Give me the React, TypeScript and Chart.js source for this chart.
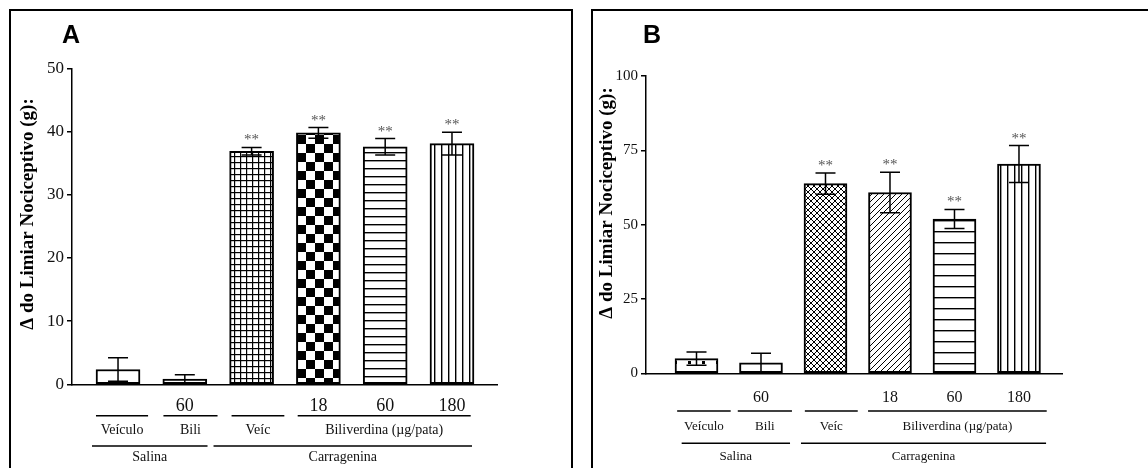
import React, { useEffect, useRef } from 'react';
import { Chart, registerables } from 'chart.js';
Chart.register(...registerables);

// ---------- data ----------
const categories = ['Salina/Veículo', 'Salina/Bili 60', 'Carragenina/Veíc', 'Carragenina/Bili 18', 'Carragenina/Bili 60', 'Carragenina/Bili 180'];
const tickLabels = ['', '60', '', '18', '60', '180'];
const stars = ['', '', '**', '**', '**', '**'];

const meansA = [2.35, 0.84, 36.9, 39.8, 37.6, 38.1];
const semA = [1.85, 0.68, 0.6, 0.85, 1.3, 1.8];
const meansB = [4.95, 3.5, 63.8, 60.8, 51.9, 70.4];
const semB = [2.25, 3.25, 3.55, 6.8, 3.2, 6.2];

const row1Labels = ['Veículo', 'Bili', 'Veíc', 'Biliverdina (µg/pata)'];
const row2Labels = ['Salina', 'Carragenina'];
const yTitle = 'Δ do Limiar Nociceptivo (g):';

// ---------- layout / style ----------
const patternsA = ['white', 'white', 'grid', 'checker', 'hlines8', 'vlines7'];
const patternsB = ['dots', 'white', 'cross', 'diag', 'hlines11', 'vlines7'];

const row1SpansA = [[-0.33, 0.45], [0.68, 1.49], [1.7, 2.49], [2.69, 5.28]];
const row2SpansA = [[-0.39, 1.34], [1.43, 5.3]];
const row1SpansB = [[-0.3, 0.53], [0.64, 1.48], [1.68, 2.5], [2.66, 5.43]];
const row2SpansB = [[-0.23, 1.45], [1.62, 5.42]];

const SERIF = '"Liberation Serif", "Times New Roman", serif';

function makePattern(ctx: CanvasRenderingContext2D, kind: string): CanvasPattern | string {
  if (kind === 'white') return '#ffffff';
  const c = document.createElement('canvas');
  const g = c.getContext('2d')!;
  const set = (w: number, h: number) => { c.width = w; c.height = h; g.fillStyle = '#fff'; g.fillRect(0, 0, w, h); g.fillStyle = '#000'; g.strokeStyle = '#000'; };
  if (kind === 'grid') { set(6, 6); g.fillRect(0, 0, 1.2, 6); g.fillRect(0, 0, 6, 1.2); }
  else if (kind === 'checker') { set(18, 18); g.fillRect(0, 0, 9, 9); g.fillRect(9, 9, 9, 9); }
  else if (kind === 'hlines8') { set(4, 8); g.fillRect(0, 0, 4, 1.4); }
  else if (kind === 'hlines11') { set(4, 11); g.fillRect(0, 0, 4, 1.4); }
  else if (kind === 'vlines7') { set(7, 4); g.fillRect(0, 0, 1.4, 4); }
  else if (kind === 'dots') { set(14, 14); g.fillRect(10, 11, 3, 3); }
  else if (kind === 'diag' || kind === 'cross') {
    const s = 6; set(s, s); g.lineWidth = 1;
    g.beginPath();
    g.moveTo(-1, s + 1); g.lineTo(s + 1, -1);
    g.moveTo(-s / 2 - 1, s / 2 + 1); g.lineTo(s / 2 + 1, -s / 2 - 1);
    g.moveTo(s / 2 - 1, 1.5 * s + 1); g.lineTo(1.5 * s + 1, s / 2 - 1);
    if (kind === 'cross') {
      g.moveTo(-1, -1); g.lineTo(s + 1, s + 1);
      g.moveTo(s / 2 - 1, -s / 2 - 1); g.lineTo(1.5 * s + 1, s / 2 + 1);
      g.moveTo(-s / 2 - 1, s / 2 - 1); g.lineTo(s / 2 + 1, 1.5 * s + 1);
    }
    g.stroke();
  }
  return ctx.createPattern(c, 'repeat') || '#fff';
}

interface PanelCfg {
  letter: string;
  means: number[];
  sem: number[];
  patterns: string[];
  yMax: number;
  yStep: number;
  xMin: number;
  xMax: number;
  barWidth: number;
  canvasW: number;
  area: { left: number; right: number; top: number; bottom: number };
  tickFont: number;
  tickPad: number;
  labelFont: number;
  titleFont: number;
  titleX: number;
  titleY: number;
  letterX: number;
  rows: number[]; // y offsets below axis: line1, text1, line2, text2
  row1Spans: number[][];
  row2Spans: number[][];
}

const cfgA: PanelCfg = {
  letter: 'A', means: meansA, sem: semA, patterns: patternsA,
  yMax: 50, yStep: 10, xMin: -0.689, xMax: 5.674, barWidth: 44,
  canvasW: 580, area: { left: 72, right: 497, top: 68.5, bottom: 384.3 },
  tickFont: 18, tickPad: 11, labelFont: 14, titleFont: 19, titleX: 28, titleY: 214, letterX: 62,
  rows: [31.4, 45.7, 61.7, 73.4], row1Spans: row1SpansA, row2Spans: row2SpansA,
};
const cfgB: PanelCfg = {
  letter: 'B', means: meansB, sem: semB, patterns: patternsB,
  yMax: 100, yStep: 25, xMin: -0.783, xMax: 5.667, barWidth: 43,
  canvasW: 568, area: { left: 66, right: 482, top: 76, bottom: 373.3 },
  tickFont: 16, tickPad: 15, labelFont: 13, titleFont: 19, titleX: 27, titleY: 203, letterX: 63,
  rows: [37.7, 53.7, 70, 83.4], row1Spans: row1SpansB, row2Spans: row2SpansB,
};

function Panel({ cfg, left }: { cfg: PanelCfg; left: number }) {
  const ref = useRef<HTMLCanvasElement>(null);
  useEffect(() => {
    const canvas = ref.current!;
    const ctx0 = canvas.getContext('2d')!;
    const H = 468;
    const bg = cfg.patterns.map((p) => makePattern(ctx0, p));
    const overlay = {
      id: 'overlay' + cfg.letter,
      afterDatasetsDraw(chart: any) {
        const ctx = chart.ctx as CanvasRenderingContext2D;
        const ys = chart.scales.y;
        const meta = chart.getDatasetMeta(0);
        ctx.save();
        ctx.strokeStyle = '#000';
        ctx.lineWidth = 1.5;
        meta.data.forEach((bar: any, i: number) => {
          const x = bar.x;
          const yt = ys.getPixelForValue(cfg.means[i] + cfg.sem[i]);
          const yb = ys.getPixelForValue(Math.max(0, cfg.means[i] - cfg.sem[i]));
          ctx.beginPath();
          ctx.moveTo(x, yt); ctx.lineTo(x, yb);
          ctx.moveTo(x - 10, yt); ctx.lineTo(x + 10, yt);
          ctx.moveTo(x - 10, yb); ctx.lineTo(x + 10, yb);
          ctx.stroke();
          if (stars[i]) {
            ctx.fillStyle = '#555';
            ctx.font = `15px ${SERIF}`;
            ctx.textAlign = 'center';
            ctx.textBaseline = 'alphabetic';
            ctx.fillText(stars[i], x, yt - 3);
          }
        });
        ctx.restore();
      },
      afterDraw(chart: any) {
        const ctx = chart.ctx as CanvasRenderingContext2D;
        const xs = chart.scales.x;
        const base = chart.chartArea.bottom;
        ctx.save();
        ctx.strokeStyle = '#000';
        ctx.fillStyle = '#111';
        ctx.lineWidth = 1.5;
        const drawRow = (spans: number[][], labels: string[], lineOff: number, textOff: number) => {
          spans.forEach((s, i) => {
            const x1 = xs.getPixelForValue(s[0]);
            const x2 = xs.getPixelForValue(s[1]);
            ctx.beginPath();
            ctx.moveTo(x1, base + lineOff); ctx.lineTo(x2, base + lineOff);
            ctx.stroke();
            ctx.font = `${cfg.labelFont}px ${SERIF}`;
            ctx.textAlign = 'center';
            ctx.textBaseline = 'middle';
            ctx.fillText(labels[i], (x1 + x2) / 2, base + textOff);
          });
        };
        drawRow(cfg.row1Spans, row1Labels, cfg.rows[0], cfg.rows[1]);
        drawRow(cfg.row2Spans, row2Labels, cfg.rows[2], cfg.rows[3]);
        ctx.save();
        ctx.translate(cfg.titleX, cfg.titleY);
        ctx.rotate(-Math.PI / 2);
        ctx.font = `bold ${cfg.titleFont}px ${SERIF}`;
        ctx.textAlign = 'center';
        ctx.textBaseline = 'middle';
        ctx.fillStyle = '#000';
        ctx.fillText(yTitle, 0, 0);
        ctx.restore();
        ctx.font = `bold 25px "Liberation Sans", Arial, sans-serif`;
        ctx.fillStyle = '#000';
        ctx.textAlign = 'left';
        ctx.textBaseline = 'alphabetic';
        ctx.fillText(cfg.letter, cfg.letterX, 43);
        ctx.restore();
      },
    };

    const chart = new Chart(canvas, {
      type: 'bar',
      data: {
        labels: categories,
        datasets: [{
          data: cfg.means.map((m, i) => ({ x: i, y: m })) as any,
          backgroundColor: bg as any,
          borderColor: '#000',
          borderWidth: 2,
          borderSkipped: false,
          barThickness: cfg.barWidth,
        }],
      },
      options: {
        responsive: false,
        animation: false,
        devicePixelRatio: 1,
        events: [],
        layout: { padding: { top: cfg.area.top, left: 0, right: cfg.canvasW - cfg.area.right, bottom: 0 } },
        plugins: { legend: { display: false }, tooltip: { enabled: false } },
        scales: {
          x: {
            type: 'linear',
            min: cfg.xMin,
            max: cfg.xMax,
            offset: false,
            afterBuildTicks: (s: any) => { s.ticks = [0, 1, 2, 3, 4, 5].map((v) => ({ value: v })); },
            afterFit: (s: any) => { s.height = H - cfg.area.bottom; },
            grid: { display: false, drawTicks: false },
            border: { display: true, color: '#000', width: 1.5 },
            ticks: {
              autoSkip: false,
              maxRotation: 0,
              padding: cfg.tickPad,
              color: '#111',
              font: { family: SERIF, size: cfg.tickFont },
              callback: (v: any) => tickLabels[Math.round(Number(v))] ?? '',
            },
          },
          y: {
            min: 0,
            max: cfg.yMax,
            afterFit: (s: any) => { s.width = cfg.area.left; },
            grid: { display: true, drawOnChartArea: false, drawTicks: true, tickLength: 5, color: '#000', lineWidth: 1.5 },
            border: { display: true, color: '#000', width: 1.5 },
            ticks: {
              stepSize: cfg.yStep,
              padding: 3,
              color: '#111',
              font: { family: SERIF, size: cfg.tickFont - 1 },
            },
          },
        },
      },
      plugins: [overlay],
    });
    return () => chart.destroy();
  }, [cfg]);
  return (
    <canvas
      ref={ref}
      width={cfg.canvasW}
      height={468}
      style={{ position: 'absolute', left, top: 0, width: cfg.canvasW, height: 468 }}
    />
  );
}

export default function App() {
  return (
    <div style={{ position: 'fixed', left: 0, top: 0, width: 1148, height: 468, overflow: 'hidden', background: '#fff' }}>
      <Panel cfg={cfgA} left={0} />
      <Panel cfg={cfgB} left={580} />
      <div style={{ position: 'absolute', left: 9, top: 9, width: 560, height: 480, border: '2px solid #000', pointerEvents: 'none' }} />
      <div style={{ position: 'absolute', left: 591, top: 9, width: 600, height: 480, border: '2px solid #000', pointerEvents: 'none' }} />
    </div>
  );
}
